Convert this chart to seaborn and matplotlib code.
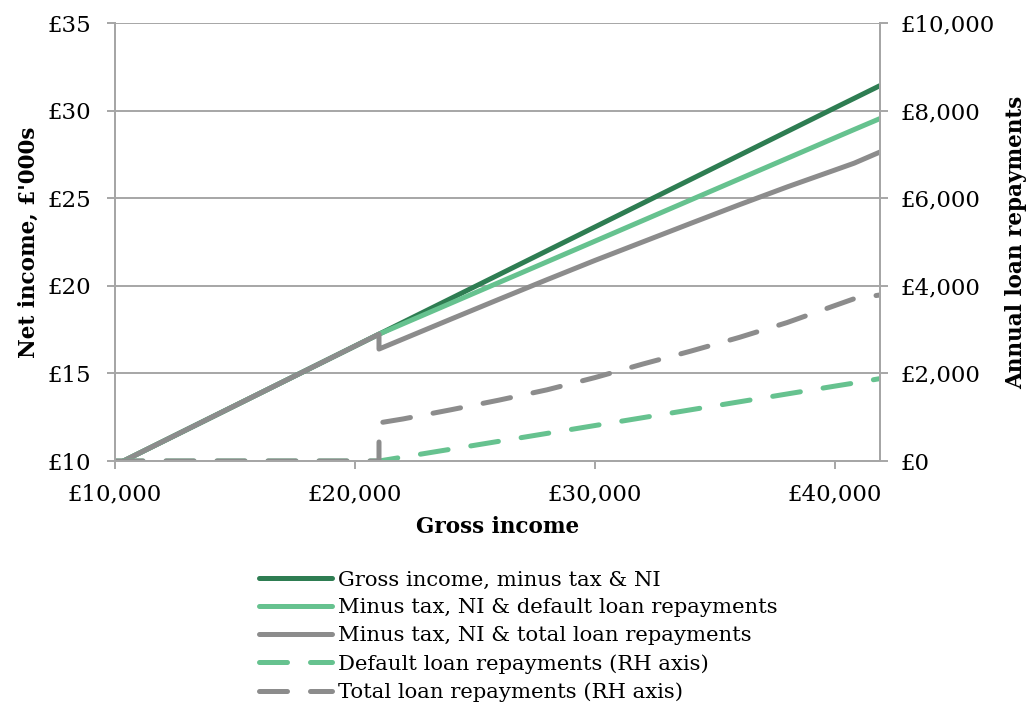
import numpy as np
import pandas as pd
import matplotlib
matplotlib.use("Agg")
import matplotlib.pyplot as plt
import matplotlib.ticker as mticker
import seaborn as sns

# ---- data ----
gross = [10000, 12000, 14000, 16000, 18000, 20000, 21000, 21000, 22000, 24000, 26000,
         28000, 30000, 32000, 34000, 36000, 38000, 40000, 40800, 41865]
net_tax_ni = [9.76, 11.12, 12.48, 13.84, 15.20, 16.56, 17.24, 17.24, 17.92, 19.28, 20.64,
              22.00, 23.36, 24.72, 26.08, 27.44, 28.80, 30.16, 30.70, 31.42]
net_default = [9.76, 11.12, 12.48, 13.84, 15.20, 16.56, 17.24, 17.24, 17.83, 19.01, 20.19,
               21.37, 22.55, 23.73, 24.91, 26.09, 27.27, 28.45, 28.92, 29.54]
net_total = [9.76, 11.12, 12.48, 13.84, 15.20, 16.56, 17.24, 16.39, 16.96, 18.10, 19.23,
             20.35, 21.45, 22.51, 23.57, 24.62, 25.64, 26.61, 27.00, 27.63]
default_repay = [0, 0, 0, 0, 0, 0, 0, 0, 90, 270, 450,
                 630, 810, 990, 1170, 1350, 1530, 1710, 1780, 1880]
total_repay = [0, 0, 0, 0, 0, 0, 0, 870, 960, 1170, 1390,
               1625, 1905, 2215, 2510, 2820, 3160, 3550, 3705, 3790]

labels = ["Gross income, minus tax & NI",
          "Minus tax, NI & default loan repayments",
          "Minus tax, NI & total loan repayments",
          "Default loan repayments (RH axis)",
          "Total loan repayments (RH axis)"]

left_ticks = [10, 15, 20, 25, 30, 35]
right_ticks = [0, 2000, 4000, 6000, 8000, 10000]
x_ticks = [10000, 20000, 30000, 40000]

DARK = "#2E7D52"
LIGHT = "#66C28F"
GREY = "#8C8C8C"
AXC = "#A6A6A6"

sns.set_style("white")
FONT = ["DejaVu Serif"]
plt.rcParams["font.family"] = FONT
plt.rcParams["text.color"] = "black"
plt.rcParams["axes.labelcolor"] = "black"
plt.rcParams["lines.solid_capstyle"] = "round"
plt.rcParams["lines.dash_capstyle"] = "round"

df = pd.DataFrame({"gross": gross, "a": net_tax_ni, "b": net_default, "c": net_total,
                   "d": default_repay, "e": total_repay})

fig = plt.figure(figsize=(10.32, 7.09), dpi=100)
ax = fig.add_axes([115/1032, 1-461/709, (880-115)/1032, (461-23)/709])
ax2 = ax.twinx()

LW = 3.6
sns.lineplot(data=df, x="gross", y="a", ax=ax, color=DARK, lw=LW, estimator=None, sort=False)
sns.lineplot(data=df, x="gross", y="b", ax=ax, color=LIGHT, lw=LW, estimator=None, sort=False)
sns.lineplot(data=df, x="gross", y="c", ax=ax, color=GREY, lw=LW, estimator=None, sort=False)
sns.lineplot(data=df, x="gross", y="d", ax=ax2, color=LIGHT, lw=LW, estimator=None, sort=False)
sns.lineplot(data=df, x="gross", y="e", ax=ax2, color=GREY, lw=LW, estimator=None, sort=False)
for ln in ax2.lines:
    ln.set_dashes((5.6, 4.6))
    ln.set_dash_capstyle("round")

ax.set_xlim(10000, 41875)
ax.set_ylim(10, 35)
ax2.set_ylim(0, 10000)
ax.set_xticks(x_ticks)
ax.set_yticks(left_ticks)
ax2.set_yticks(right_ticks)
ax.xaxis.set_major_formatter(mticker.FuncFormatter(lambda v, p: f"£{v:,.0f}"))
ax.yaxis.set_major_formatter(mticker.FuncFormatter(lambda v, p: f"£{v:.0f}"))
ax2.yaxis.set_major_formatter(mticker.FuncFormatter(lambda v, p: f"£{v:,.0f}"))

ax.grid(axis="y", color=AXC, lw=1.4)
ax.grid(axis="x", visible=False)
ax2.grid(False)
ax.set_axisbelow(True)
for a in (ax, ax2):
    a.spines["top"].set_visible(False)
    for s in ("left", "right", "bottom"):
        a.spines[s].set_color(AXC)
        a.spines[s].set_linewidth(1.4)
TS = 16.5
ax.tick_params(axis="x", direction="out", length=6, width=1.4, color=AXC,
               labelsize=TS, labelcolor="black", pad=10, bottom=True)
ax.tick_params(axis="y", direction="out", length=6, width=1.4, color=AXC,
               labelsize=TS, labelcolor="black", pad=11, left=True)
ax2.tick_params(axis="y", direction="out", length=6, width=1.4, color=AXC,
                labelsize=TS, labelcolor="black", pad=9, right=True)

ax.set_xlabel("Gross income", fontsize=15.5, fontweight="bold", labelpad=8)
ax.set_ylabel("Net income, £'000s", fontsize=15.5, fontweight="bold", labelpad=6)
ax2.set_ylabel("Annual loan repayments", fontsize=15.5, fontweight="bold", labelpad=7,
               rotation=90)

handles = ax.lines[:3] + ax2.lines[:2]
leg = fig.legend(handles, labels, loc="upper center", bbox_to_anchor=(518/1032, 1-560/709),
                 frameon=False, fontsize=15.2, handlelength=3.5, handletextpad=0.25,
                 labelspacing=0.42, borderpad=0)

fig.savefig("out.png", dpi=100)
